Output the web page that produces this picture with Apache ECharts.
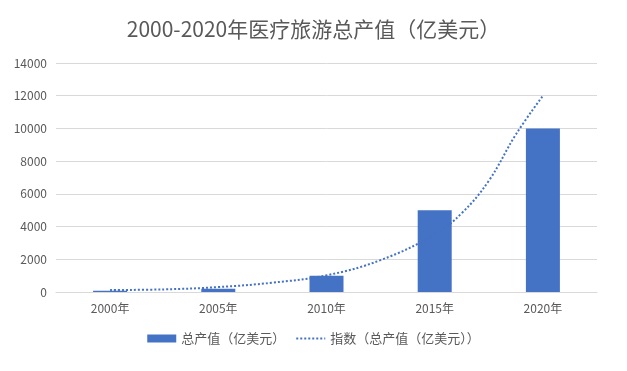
<!DOCTYPE html>
<html>
<head>
<meta charset="utf-8">
<script src="https://cdn.jsdelivr.net/npm/echarts@6/dist/echarts.min.js"></script>
<style>html,body{margin:0;padding:0;background:#fff}#c{width:627px;height:371px}</style>
</head>
<body>
<div id="c"></div>
<script>
const categories = ['2000年', '2005年', '2010年', '2015年', '2020年'];
const barValues = [80, 200, 1000, 5000, 10000];
// trendline readings: [category position, value]
const trendPositions = [0, 0.5, 1, 1.5, 2, 2.5, 3, 3.25, 3.5, 3.75, 4];
const trendValues = [120, 160, 300, 570, 1020, 1950, 3520, 4820, 6800, 9630, 12000];
const yTicks = [0, 2000, 4000, 6000, 8000, 10000, 12000, 14000];
const titleText = '2000-2020年医疗旅游总产值（亿美元）';
const barName = '总产值（亿美元）';
const lineName = '指数（总产值（亿美元））';

const font = "'Noto Sans CJK SC', sans-serif";
const chart = echarts.init(document.getElementById('c'));
chart.setOption({
  animation: false,
  textStyle: {fontFamily: font},
  title: {
    text: titleText, left: 'center', top: 14,
    textStyle: {fontFamily: font, fontSize: 21, fontWeight: 'normal', color: '#595959'}
  },
  legend: {
    bottom: 21, left: 'center', itemGap: 10, itemWidth: 29, itemHeight: 8,
    textStyle: {fontFamily: font, fontSize: 13, color: '#595959'},
    data: [
      {name: barName, icon: 'rect'},
      {name: lineName, itemStyle: {opacity: 0}}
    ]
  },
  grid: {left: 56, right: 30, top: 63, bottom: 79},
  xAxis: [
    {
      type: 'category', data: categories,
      axisLine: {lineStyle: {color: '#d9d9d9'}},
      axisTick: {show: false},
      axisLabel: {color: '#595959', fontSize: 12, margin: 10, fontFamily: font}
    },
    {type: 'value', min: -0.5, max: 4.5, show: false}
  ],
  yAxis: {
    type: 'value', min: yTicks[0], max: yTicks[yTicks.length - 1], interval: 2000,
    axisLine: {show: false}, axisTick: {show: false},
    splitLine: {lineStyle: {color: '#d9d9d9'}},
    axisLabel: {color: '#595959', fontSize: 12, margin: 9, fontFamily: font, formatter: v => String(v)}
  },
  series: [
    {
      name: barName, type: 'bar', data: barValues, barWidth: 34, xAxisIndex: 0,
      itemStyle: {color: '#4472C4'}
    },
    {
      name: lineName, type: 'line', xAxisIndex: 1, smooth: 0.4, symbol: 'none',
      data: trendPositions.map((p, i) => [p, trendValues[i]]),
      lineStyle: {color: '#4472C4', width: 2, type: [2, 2]},
      itemStyle: {color: '#4472C4'}
    }
  ]
});
</script>
</body>
</html>
